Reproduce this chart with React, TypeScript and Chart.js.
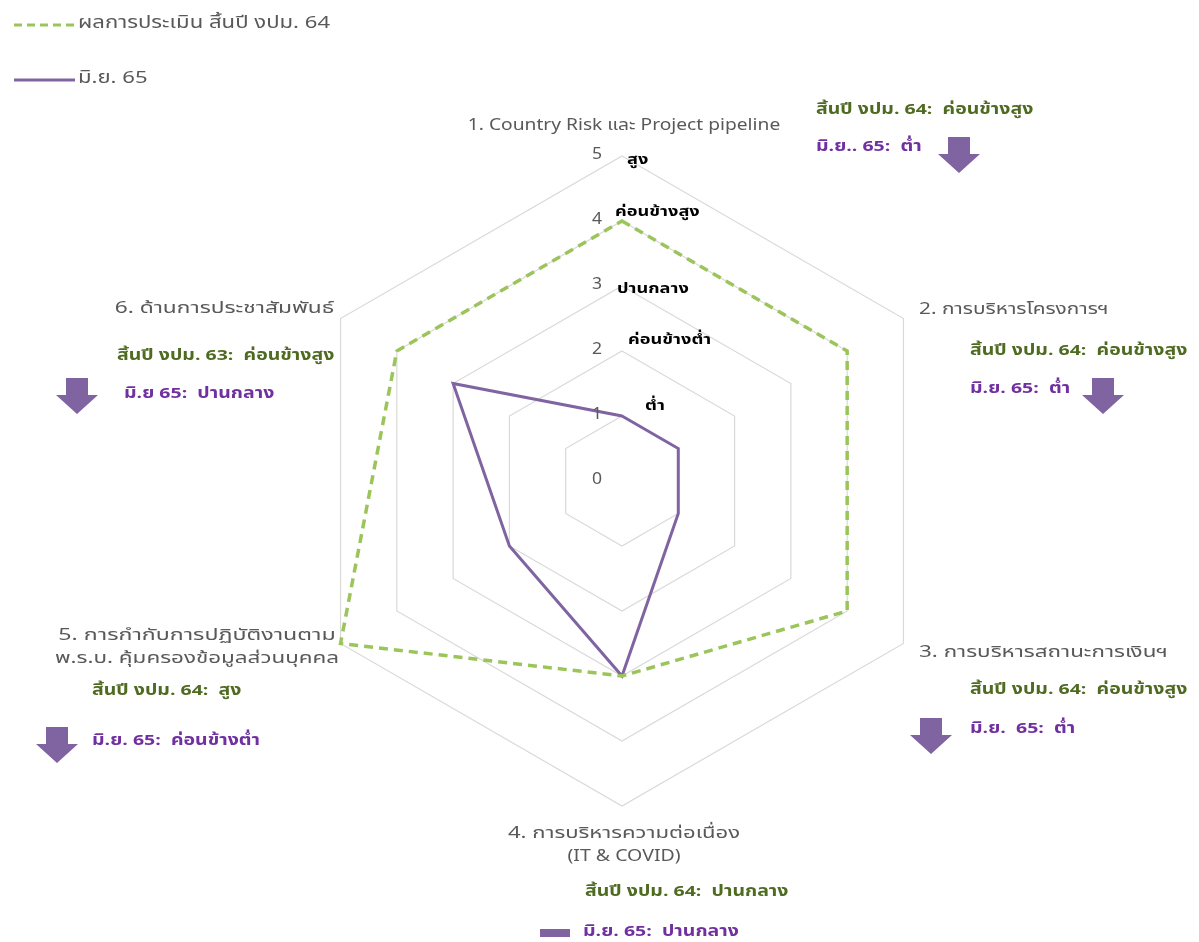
import React, { useEffect, useRef } from "react";
import { Chart, registerables } from "chart.js";

Chart.register(...registerables);

const categories = [
  "1. Country Risk และ Project pipeline",
  "2. การบริหารโครงการฯ",
  "3. การบริหารสถานะการเงินฯ",
  "4. การบริหารความต่อเนื่อง (IT & COVID)",
  "5. การกำกับการปฏิบัติงานตาม พ.ร.บ. คุ้มครองข้อมูลส่วนบุคคล",
  "6. ด้านการประชาสัมพันธ์",
];
const seriesNames = ["ผลการประเมิน สิ้นปี งปม. 64", "มิ.ย. 65"];
const assessment64 = [4, 4, 4, 3, 5, 4];
const june65 = [1, 1, 1, 3, 2, 3];
const tickValues = [0, 1, 2, 3, 4, 5];
const levelLabels = ["ต่ำ", "ค่อนข้างต่ำ", "ปานกลาง", "ค่อนข้างสูง", "สูง"];
const noteGreen = [
  "สิ้นปี งปม. 64:  ค่อนข้างสูง",
  "สิ้นปี งปม. 64:  ค่อนข้างสูง",
  "สิ้นปี งปม. 64:  ค่อนข้างสูง",
  "สิ้นปี งปม. 64:  ปานกลาง",
  "สิ้นปี งปม. 64:  สูง",
  "สิ้นปี งปม. 63:  ค่อนข้างสูง",
];
const notePurple = [
  "มิ.ย.. 65:  ต่ำ",
  "มิ.ย. 65:  ต่ำ",
  "มิ.ย.  65:  ต่ำ",
  "มิ.ย. 65:  ปานกลาง",
  "มิ.ย. 65:  ค่อนข้างต่ำ",
  "มิ.ย 65:  ปานกลาง",
];

const FONT = "Tahoma, 'Noto Sans Thai', 'Noto Sans', 'DejaVu Sans', sans-serif";
const GREEN = "#9bc55a";
const PURPLE = "#8064a2";
const GREY_TEXT = "#595959";
const GREEN_TEXT = "#4f6b22";
const PURPLE_TEXT = "#7030a0";

// axis label layout (text lines with horizontal stretch, x, y, align)
const axisLabelLayout = [
  { lines: [["1. Country Risk และ Project pipeline", 1.2]], x: 624, y: 127, align: "center" },
  { lines: [["2. การบริหารโครงการฯ", 1.3]], x: 919, y: 311, align: "left" },
  { lines: [["3. การบริหารสถานะการเงินฯ", 1.4]], x: 919, y: 654, align: "left" },
  { lines: [["4. การบริหารความต่อเนื่อง", 1.38], ["(IT & COVID)", 1.22]], x: 624, y: 835, align: "center" },
  { lines: [["5. การกำกับการปฏิบัติงานตาม", 1.45], ["พ.ร.บ. คุ้มครองข้อมูลส่วนบุคคล", 1.4]], x: 197, y: 637, align: "center" },
  { lines: [["6. ด้านการประชาสัมพันธ์", 1.42]], x: 334, y: 310, align: "right" },
];
// note layout: green text pos, purple text pos, marker
const noteLayout = [
  { gx: 816, gy: 111, px: 816, py: 148, marker: "arrow", mx: 959, my: 137 },
  { gx: 970, gy: 352, px: 970, py: 390, marker: "arrow", mx: 1103, my: 378 },
  { gx: 970, gy: 691, px: 970, py: 730, marker: "arrow", mx: 931, my: 718 },
  { gx: 585, gy: 893, px: 583, py: 933, marker: "bar", mx: 555, my: 933 },
  { gx: 92, gy: 692, px: 92, py: 742, marker: "arrow", mx: 57, my: 727 },
  { gx: 117, gy: 357, px: 124, py: 395, marker: "arrow", mx: 77, my: 378 },
];
const levelLayout = [
  { x: 645, dy: -9 },
  { x: 628, dy: -10 },
  { x: 617, dy: 4 },
  { x: 615, dy: -8 },
  { x: 627, dy: 5 },
];

function drawText(
  ctx: CanvasRenderingContext2D,
  text: string,
  x: number,
  y: number,
  align: string,
  sx: number
) {
  const w = ctx.measureText(text).width * sx;
  const left = align === "center" ? x - w / 2 : align === "right" ? x - w : x;
  ctx.save();
  ctx.textAlign = "left";
  ctx.translate(left, y);
  ctx.scale(sx, 1);
  ctx.fillText(text, 0, 0);
  ctx.restore();
}

function drawArrow(ctx: CanvasRenderingContext2D, cx: number, top: number) {
  ctx.save();
  ctx.fillStyle = PURPLE;
  ctx.beginPath();
  ctx.moveTo(cx - 11, top);
  ctx.lineTo(cx + 11, top);
  ctx.lineTo(cx + 11, top + 17);
  ctx.lineTo(cx + 21, top + 17);
  ctx.lineTo(cx, top + 36);
  ctx.lineTo(cx - 21, top + 17);
  ctx.lineTo(cx - 11, top + 17);
  ctx.closePath();
  ctx.fill();
  ctx.restore();
}

const overlayPlugin = {
  id: "overlay",
  afterDraw(chart: any) {
    const ctx: CanvasRenderingContext2D = chart.ctx;
    const scale = chart.scales.r;
    ctx.save();
    ctx.textBaseline = "middle";

    // tick labels
    ctx.font = `16px ${FONT}`;
    ctx.fillStyle = GREY_TEXT;
    tickValues.forEach((v) => {
      const p = scale.getPointPositionForValue(0, v);
      drawText(ctx, String(v), p.x - 25, p.y, "center", 1.1);
    });

    // level labels
    ctx.font = `bold 14px ${FONT}`;
    ctx.fillStyle = "#000000";
    levelLabels.forEach((t, i) => {
      const p = scale.getPointPositionForValue(0, i + 1);
      drawText(ctx, t, levelLayout[i].x, p.y + levelLayout[i].dy, "left", 1.3);
    });

    // axis labels
    ctx.font = `16px ${FONT}`;
    ctx.fillStyle = GREY_TEXT;
    axisLabelLayout.forEach((l) => {
      l.lines.forEach((line, j) =>
        drawText(ctx, line[0] as string, l.x, l.y + j * 23, l.align, line[1] as number)
      );
    });

    // notes
    noteLayout.forEach((n, i) => {
      ctx.font = `bold 15px ${FONT}`;
      ctx.fillStyle = GREEN_TEXT;
      drawText(ctx, noteGreen[i], n.gx, n.gy, "left", 1.3);
      ctx.fillStyle = PURPLE_TEXT;
      drawText(ctx, notePurple[i], n.px, n.py, "left", 1.3);
      if (n.marker === "arrow") {
        drawArrow(ctx, n.mx, n.my);
      } else {
        ctx.fillStyle = PURPLE;
        ctx.fillRect(n.mx - 15, n.my - 4, 30, 8);
      }
    });

    // legend
    const ds = chart.data.datasets;
    ctx.lineWidth = 3;
    ctx.strokeStyle = ds[0].borderColor;
    ctx.setLineDash([8, 5]);
    ctx.beginPath();
    ctx.moveTo(14, 25);
    ctx.lineTo(75, 25);
    ctx.stroke();
    ctx.setLineDash([]);
    ctx.strokeStyle = ds[1].borderColor;
    ctx.beginPath();
    ctx.moveTo(14, 80);
    ctx.lineTo(75, 80);
    ctx.stroke();
    ctx.font = `17px ${FONT}`;
    ctx.fillStyle = GREY_TEXT;
    drawText(ctx, ds[0].label, 78, 25, "left", 1.3);
    drawText(ctx, ds[1].label, 78, 80, "left", 1.3);

    ctx.restore();
  },
};

const bgPlugin = {
  id: "bg",
  beforeDraw(chart: any) {
    const ctx = chart.ctx;
    ctx.save();
    ctx.fillStyle = "#ffffff";
    ctx.fillRect(0, 0, chart.width, chart.height);
    ctx.restore();
  },
};

export default function App() {
  const ref = useRef<HTMLCanvasElement | null>(null);
  useEffect(() => {
    if (!ref.current) return;
    const chart = new Chart(ref.current, {
      type: "radar",
      data: {
        labels: categories,
        datasets: [
          {
            label: seriesNames[0],
            data: assessment64,
            borderColor: GREEN,
            borderWidth: 3.5,
            borderDash: [9, 6],
            backgroundColor: "rgba(0,0,0,0)",
            fill: false,
            pointRadius: 0,
            tension: 0,
          },
          {
            label: seriesNames[1],
            data: june65,
            borderColor: PURPLE,
            borderWidth: 3,
            backgroundColor: "rgba(0,0,0,0)",
            fill: false,
            pointRadius: 0,
            tension: 0,
          },
        ],
      },
      options: {
        responsive: false,
        animation: false,
        layout: { padding: { left: 297, right: 252, top: 156, bottom: 136 } },
        plugins: { legend: { display: false }, tooltip: { enabled: false } },
        scales: {
          r: {
            min: 0,
            max: 5,
            ticks: { stepSize: 1, display: false },
            grid: { color: "#d9d9d9", lineWidth: 1.2 },
            angleLines: { display: false },
            pointLabels: { display: false },
          },
        },
      },
      plugins: [bgPlugin, overlayPlugin],
    });
    return () => chart.destroy();
  }, []);
  return (
    <div style={{ position: "fixed", left: 0, top: 0, width: 1199, height: 942, background: "#fff" }}>
      <canvas ref={ref} width={1199} height={942} style={{ width: 1199, height: 942 }} />
    </div>
  );
}
